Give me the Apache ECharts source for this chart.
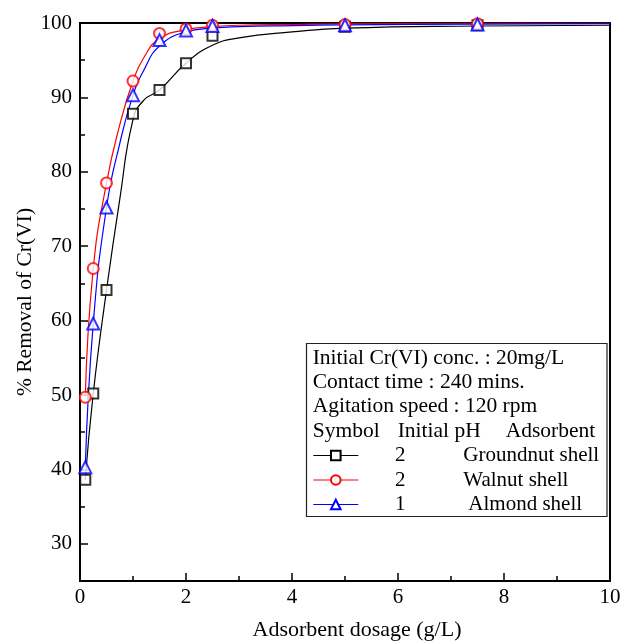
<!DOCTYPE html>
<html>
<head>
<meta charset="utf-8">
<script src="https://cdn.jsdelivr.net/npm/echarts@6/dist/echarts.min.js"></script>
<style>html,body{margin:0;padding:0;background:#fff}#c{width:622px;height:642px}</style>
</head>
<body>
<div id="c"></div>
<script>
// Measured points
const dosage = [0.1, 0.25, 0.5, 1.0, 1.5, 2.0, 2.5, 5.0, 7.5];
const groundnut = [38.6, 50.2, 64.1, 87.8, 91.0, 94.6, 98.3, 99.5, 99.7];
const walnut = [49.7, 67.0, 78.5, 92.2, 98.6, 99.2, 99.7, 99.8, 99.9];
const almond = [40.3, 59.6, 75.2, 90.3, 97.7, 99.0, 99.6, 99.7, 99.8];
// Fitted curves
const fitX = [0.1, 0.25, 0.5, 0.75, 1.0, 1.2, 1.5, 2.0, 2.5, 3, 4, 5, 7.5, 10];
const groundnutFit = [38.6, 50.2, 64.1, 76.3, 87.0, 89.6, 91.0, 94.6, 97.0, 98.0, 98.8, 99.3, 99.6, 99.7];
const walnutFit = [49.7, 67.0, 78.5, 86.3, 92.2, 95.3, 97.9, 99.1, 99.5, 99.7, 99.8, 99.9, 99.95, 100];
const almondFit = [40.3, 59.6, 75.2, 83.8, 90.3, 93.6, 96.9, 98.8, 99.3, 99.5, 99.65, 99.75, 99.85, 99.9];

const names = ['Groundnut shell', 'Walnut shell', 'Almond shell'];
const initialPH = [2, 2, 1];
const colors = ['#000000', '#ff0000', '#0000ff'];
const symbols = ['emptyRect', 'emptyCircle', 'emptyTriangle'];
const symbolSizes = [10, 11, 12];
const headerLines = ['Initial Cr(VI) conc. : 20mg/L', 'Contact time : 240 mins.', 'Agitation speed : 120 rpm'];
const columnHeads = ['Symbol', 'Initial pH', 'Adsorbent'];
const xTicks = [0, 2, 4, 6, 8, 10];
const yMajor = [30, 40, 50, 60, 70, 80, 90, 100];
const yMinor = [35, 45, 55, 65, 75, 85, 95];

const FONT = '"Liberation Serif", "Times New Roman", serif';
const pts = [groundnut, walnut, almond];
const fits = [groundnutFit, walnutFit, almondFit];

const series = [];
for (let i = 0; i < 3; i++) {
  series.push({
    name: names[i], type: 'line', smooth: 0.5,
    data: fitX.map((x, k) => [x, fits[i][k]]),
    symbol: symbols[i], showSymbol: false, symbolSize: symbolSizes[i],
    lineStyle: { color: colors[i], width: 1.2 },
    itemStyle: { color: colors[i] },
    z: 2, silent: true
  });
}
for (let i = 0; i < 3; i++) {
  series.push({
    name: names[i] + ' data', type: 'scatter',
    data: dosage.map((x, k) => [x, pts[i][k]]),
    symbol: symbols[i], symbolSize: symbolSizes[i],
    itemStyle: { color: colors[i], borderWidth: 1.2 },
    z: 3, silent: true
  });
}

const rowY = [358, 382, 406.5, 431, 456, 480.5, 505];
const legends = names.map((n, i) => ({
  show: true, data: [n], orient: 'horizontal', left: 312.7, top: rowY[4 + i] - 11,
  padding: 0, itemWidth: 45, itemHeight: 12,
  selectedMode: false,
  lineStyle: { width: 1.2 },
  itemStyle: { borderWidth: 1.2 },
  formatter: name => '{ph|' + initialPH[i] + '}{' + (i === 2 ? 'ad2' : 'ad') + '|' + name + '}',
  textStyle: {
    fontFamily: FONT, fontSize: 21, color: '#000',
    rich: {
      ph: { width: 74, align: 'center', fontFamily: FONT, fontSize: 21, color: '#000' },
      ad: { padding: [0, 0, 0, 26], fontFamily: FONT, fontSize: 21, color: '#000' },
      ad2: { padding: [0, 0, 0, 31], fontFamily: FONT, fontSize: 21, color: '#000' }
    }
  }
}));

const graphics = [
  { type: 'rect', shape: { x: 306.5, y: 343.5, width: 300.5, height: 173 }, style: { fill: 'none', stroke: '#222', lineWidth: 1.2 }, z: 10 }
];
headerLines.forEach((t, i) => graphics.push({
  type: 'text', x: 312.7, y: rowY[i], style: { text: t, font: '21.5px ' + FONT, fill: '#000', verticalAlign: 'middle' }, z: 10
}));
const headX = [312.7, 397.7, 505.7];
columnHeads.forEach((t, i) => graphics.push({
  type: 'text', x: headX[i], y: rowY[3], style: { text: t, font: '21.5px ' + FONT, fill: '#000', verticalAlign: 'middle' }, z: 10
}));

const axisFont = { fontFamily: FONT, fontSize: 21, color: '#000' };
const option = {
  backgroundColor: '#fff',
  animation: false,
  grid: { left: 80, right: 12, top: 23, bottom: 61, show: true, borderColor: '#000', borderWidth: 2, containLabel: false, outerBoundsMode: 'none' },
  legend: legends,
  xAxis: {
    type: 'value', min: 0, max: 10, interval: 2,
    name: 'Adsorbent dosage (g/L)', nameLocation: 'middle', nameGap: 38, nameMoveOverlap: false,
    nameTextStyle: Object.assign({ padding: [0, 0, 0, 24] }, axisFont, { fontSize: 22 }),
    axisLine: { show: true, lineStyle: { color: '#000', width: 2 } },
    axisTick: { show: true, inside: true, length: 8, lineStyle: { color: '#000', width: 1.5 } },
    minorTick: { show: true, splitNumber: 2, length: 5, lineStyle: { color: '#000', width: 1.5 } },
    axisLabel: Object.assign({ margin: 6, customValues: xTicks }, axisFont),
    splitLine: { show: false }
  },
  yAxis: [{
    type: 'value', min: 25, max: 100,
    name: '% Removal of Cr(VI)', nameLocation: 'middle', nameGap: 44, nameRotate: 90, nameMoveOverlap: false,
    nameTextStyle: Object.assign({}, axisFont, { fontSize: 21.5 }),
    axisLine: { show: true, lineStyle: { color: '#000', width: 2 } },
    axisTick: { show: true, inside: true, length: 8, customValues: yMajor, lineStyle: { color: '#000', width: 1.5 } },
    axisLabel: Object.assign({ margin: 8, customValues: yMajor }, axisFont),
    splitLine: { show: false }
  }, {
    type: 'value', min: 25, max: 100, position: 'left',
    axisLine: { show: false },
    axisTick: { show: true, inside: true, length: 5, customValues: yMinor, lineStyle: { color: '#000', width: 1.5 } },
    axisLabel: { show: false },
    splitLine: { show: false }
  }],
  graphic: graphics,
  series: series
};
const chart = echarts.init(document.getElementById('c'), null, { renderer: 'canvas' });
chart.setOption(option);
</script>
</body>
</html>
